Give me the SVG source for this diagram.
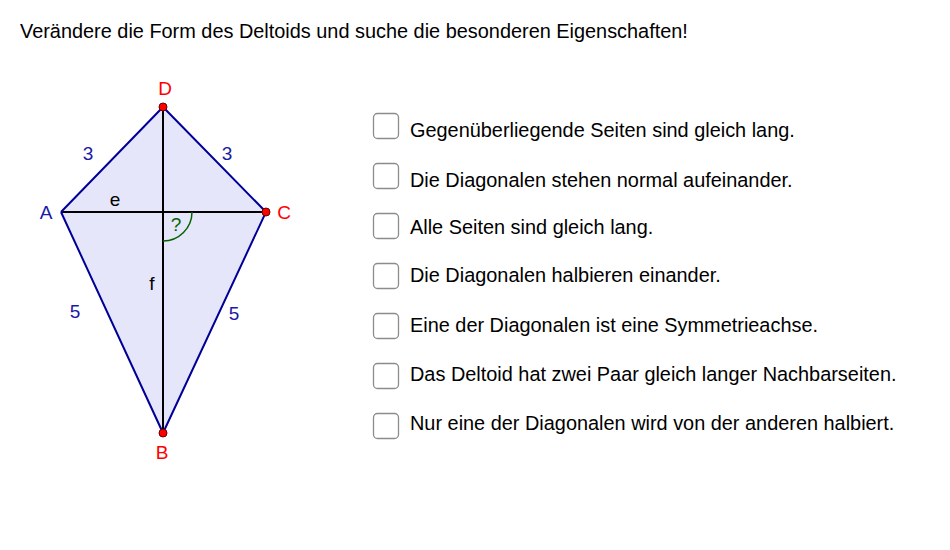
<svg xmlns="http://www.w3.org/2000/svg" width="950" height="550" viewBox="0 0 950 550">
<style>
text{font-family:"Liberation Sans",Arial,sans-serif;}
.t{font-size:19.9px;fill:#000;}
.lbl{font-size:19px;}
.blue{fill:#1a1aa6;}
.red{fill:#ff0000;}
.side{stroke:#000099;stroke-width:2;fill:none;}
.diag{stroke:#000;stroke-width:2;}
.box{fill:#fff;stroke:#8c8c8c;stroke-width:1.3;}
.pt{fill:#ff0000;stroke:#600;stroke-width:1;}
</style>
<rect width="950" height="550" fill="#fff"/>
<text class="t" x="20" y="38">Verändere die Form des Deltoids und suche die besonderen Eigenschaften!</text>
<g id="kite">
<polygon points="163,107 266,212 163,433 61,212" fill="#e6e6fa" stroke="none"/>
</g>
<g id="connectors">
<line class="diag" x1="61" y1="212" x2="266" y2="212"/>
<line class="diag" x1="163" y1="107" x2="163" y2="433"/>
<polyline class="side" points="61,212 163,107 266,212 163,433 61,212"/>
<path d="M192,212 A29,29 0 0 1 163,241" fill="none" stroke="#006400" stroke-width="1.5"/>
</g>
<g id="labels">
<text class="lbl blue" x="88" y="160" text-anchor="middle">3</text>
<text class="lbl blue" x="227" y="160" text-anchor="middle">3</text>
<text class="lbl blue" x="75" y="318" text-anchor="middle">5</text>
<text class="lbl blue" x="234" y="320" text-anchor="middle">5</text>
<text class="lbl" x="115" y="206" text-anchor="middle">e</text>
<text class="lbl" x="152" y="290" text-anchor="middle">f</text>
<text class="lbl" x="176" y="231" text-anchor="middle" fill="#006400">?</text>
</g>
<g id="D"><circle class="pt" cx="163" cy="107" r="4"/><text class="lbl red" x="165" y="95" text-anchor="middle">D</text></g>
<g id="A"><text class="lbl blue" x="46" y="219" text-anchor="middle">A</text></g>
<g id="C"><circle class="pt" cx="266" cy="212" r="4"/><text class="lbl red" x="284" y="219" text-anchor="middle">C</text></g>
<g id="B"><circle class="pt" cx="163" cy="433" r="4"/><text class="lbl red" x="162" y="459" text-anchor="middle">B</text></g>
<g id="opt1"><rect class="box" x="373.5" y="113.5" width="25" height="25" rx="4"/><text class="t" x="410" y="137">Gegenüberliegende Seiten sind gleich lang.</text></g>
<g id="opt2"><rect class="box" x="373.5" y="163.5" width="25" height="25" rx="4"/><text class="t" x="410" y="187">Die Diagonalen stehen normal aufeinander.</text></g>
<g id="opt3"><rect class="box" x="373.5" y="213.5" width="25" height="25" rx="4"/><text class="t" x="410" y="234">Alle Seiten sind gleich lang.</text></g>
<g id="opt4"><rect class="box" x="373.5" y="263.5" width="25" height="25" rx="4"/><text class="t" x="410" y="282">Die Diagonalen halbieren einander.</text></g>
<g id="opt5"><rect class="box" x="373.5" y="313.5" width="25" height="25" rx="4"/><text class="t" x="410" y="332">Eine der Diagonalen ist eine Symmetrieachse.</text></g>
<g id="opt6"><rect class="box" x="373.5" y="363.5" width="25" height="25" rx="4"/><text class="t" x="410" y="381">Das Deltoid hat zwei Paar gleich langer Nachbarseiten.</text></g>
<g id="opt7"><rect class="box" x="373.5" y="413.5" width="25" height="25" rx="4"/><text class="t" x="410" y="430">Nur eine der Diagonalen wird von der anderen halbiert.</text></g>
</svg>
